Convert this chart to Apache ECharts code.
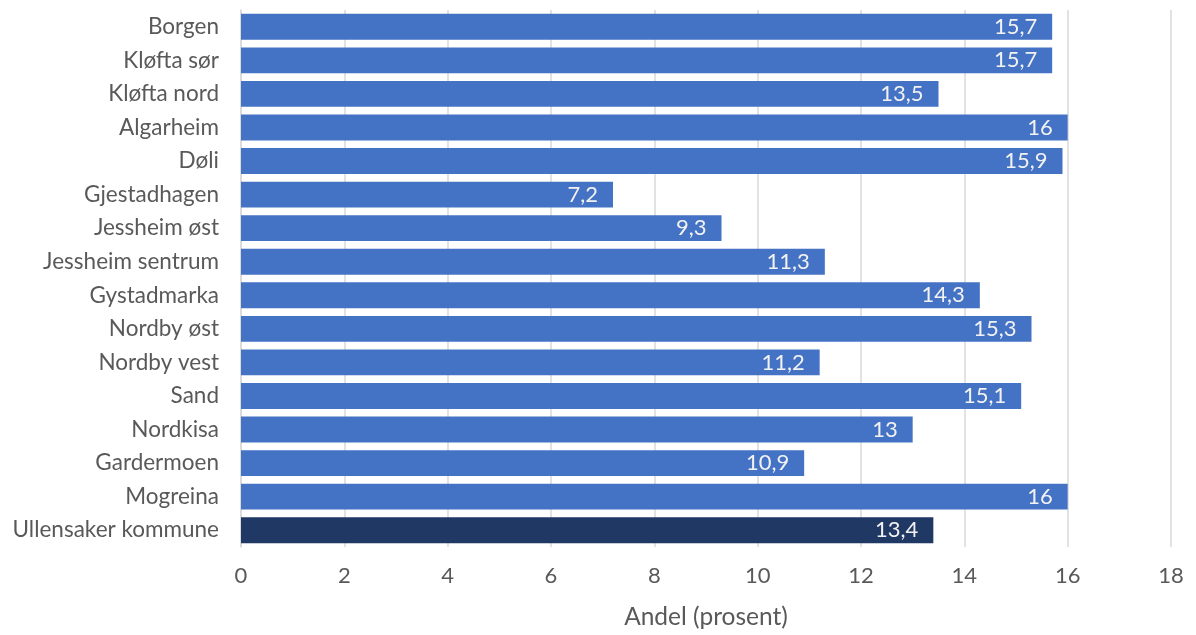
<!DOCTYPE html>
<html><head><meta charset="utf-8">
<script src="https://cdn.jsdelivr.net/npm/echarts@6/dist/echarts.min.js"></script>
<style>html,body{margin:0;padding:0;background:#fff}#c{width:1196px;height:635px}</style>
</head><body><div id="c"></div>
<script>
const categories = ["Borgen","Kløfta sør","Kløfta nord","Algarheim","Døli","Gjestadhagen","Jessheim øst","Jessheim sentrum","Gystadmarka","Nordby øst","Nordby vest","Sand","Nordkisa","Gardermoen","Mogreina","Ullensaker kommune"];
const values = [15.7,15.7,13.5,16,15.9,7.2,9.3,11.3,14.3,15.3,11.2,15.1,13,10.9,16,13.4];
const xTicks = [0,2,4,6,8,10,12,14,16,18];
const axisTitle = "Andel (prosent)";

const font = "Lato, 'Open Sans', sans-serif";
const chart = echarts.init(document.getElementById('c'));
chart.setOption({
  animation:false,
  grid:{left:241,right:25,top:10,bottom:85,containLabel:false},
  xAxis:{type:'value',min:0,max:18,interval:2,
    name:axisTitle,nameLocation:'middle',nameGap:58,
    nameTextStyle:{fontFamily:font,fontSize:24.5,color:'#595959'},
    axisLabel:{fontFamily:font,fontSize:22,color:'#595959',margin:18,
      formatter:v=>xTicks.includes(v)?String(v):''},
    axisLine:{show:false},axisTick:{show:false},
    splitLine:{lineStyle:{color:'#d9d9d9',width:1.5}}},
  yAxis:{type:'category',data:categories,inverse:true,
    axisLabel:{fontFamily:font,fontSize:22.5,color:'#595959',margin:22},
    axisLine:{show:true,lineStyle:{color:'#d9d9d9',width:1.5}},axisTick:{show:false}},
  series:[{type:'bar',barCategoryGap:'23%',
    data:values.map((v,i)=>({value:v,itemStyle:{color:i===values.length-1?'#203864':'#4472C4'}})),
    label:{show:true,position:'insideRight',distance:15,fontFamily:font,fontSize:22,color:'#f2f2f2',
      formatter:p=>String(p.value).replace('.',',')}}]
});
</script></body></html>
